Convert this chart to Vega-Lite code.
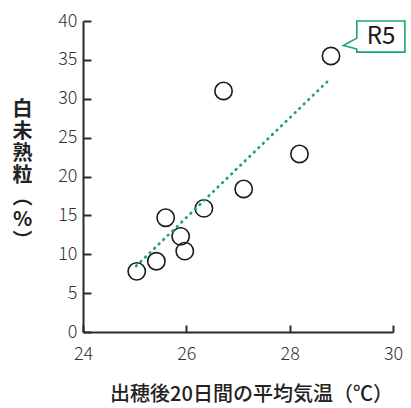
{
  "$schema": "https://vega.github.io/schema/vega-lite/v6.json",
  "width": 310,
  "height": 311,
  "autosize": {"type": "none"},
  "padding": {"left": 83, "top": 21, "right": 18, "bottom": 76},
  "background": "white",
  "config": {
    "view": {"stroke": null},
    "axis": {
      "grid": false,
      "domainColor": "#2b2b2b",
      "domainWidth": 2,
      "tickColor": "#2b2b2b",
      "tickWidth": 2,
      "labelFont": "Noto Sans CJK JP",
      "labelFontSize": 18,
      "labelFontWeight": 300,
      "labelColor": "#333333",
      "labelOverlap": false,
      "titleFont": "Noto Sans CJK JP",
      "titleColor": "#222222"
    }
  },
  "datasets": {
    "pts": [
      {"temp": 25.04, "rate": 7.8},
      {"temp": 25.42, "rate": 9.1},
      {"temp": 25.6, "rate": 14.7},
      {"temp": 25.89, "rate": 12.3},
      {"temp": 25.97, "rate": 10.4},
      {"temp": 26.34, "rate": 15.9},
      {"temp": 26.72, "rate": 31.0},
      {"temp": 27.11, "rate": 18.4},
      {"temp": 28.19, "rate": 22.9},
      {"temp": 28.8, "rate": 35.5}
    ],
    "trend": [
      {"temp": 25.03, "rate": 8.5},
      {"temp": 28.79, "rate": 32.6}
    ],
    "box": [
      {"x1": 29.3, "x2": 30.23, "y1": 36.0, "y2": 40.0, "label": "R5", "xc": 29.77, "yc": 38.0}
    ],
    "tail": [
      {"temp": 29.3, "rate": 37.8, "o": 1},
      {"temp": 29.04, "rate": 36.85, "o": 2},
      {"temp": 29.3, "rate": 36.4, "o": 3}
    ]
  },
  "layer": [
    {
      "data": {"name": "pts"},
      "mark": {"type": "point", "shape": "circle", "filled": false, "size": 300, "stroke": "#1a1a1a", "strokeWidth": 1.6, "opacity": 1},
      "encoding": {
        "x": {
          "field": "temp", "type": "quantitative",
          "scale": {"domain": [24, 30], "nice": false, "zero": false},
          "axis": {
            "values": [24, 26, 28, 30],
            "format": "d",
            "tickCount": 10,
            "tickSize": -7,
            "labelPadding": 20,
            "labelFlush": false,
            "title": "出穂後20日間の平均気温（℃）",
            "titleFontSize": 20,
            "titleFontWeight": 500,
            "titleX": 168,
            "titleY": 62,
            "titleAlign": "center",
            "titleBaseline": "middle"
          }
        },
        "y": {
          "field": "rate", "type": "quantitative",
          "scale": {"domain": [0, 40], "nice": false},
          "axis": {
            "values": [0, 5, 10, 15, 20, 25, 30, 35, 40],
            "format": "d",
            "tickCount": 20,
            "tickSize": -8,
            "labelPadding": 14,
            "labelFlush": false,
            "title": ["白", "未", "熟", "粒", "︵", "%", "︶"],
            "titleFontSize": 20,
            "titleFontWeight": "bold",
            "titleLineHeight": 22,
            "titleAngle": 0,
            "titleX": -61,
            "titleY": 88,
            "titleAlign": "center",
            "titleBaseline": "middle"
          }
        }
      }
    },
    {
      "data": {"name": "trend"},
      "mark": {"type": "line", "color": "#1aa56a", "strokeWidth": 2.8, "strokeCap": "round", "strokeDash": [0.5, 5.8]},
      "encoding": {
        "x": {"field": "temp", "type": "quantitative"},
        "y": {"field": "rate", "type": "quantitative"}
      }
    },
    {
      "data": {"name": "box"},
      "mark": {"type": "rect", "fill": "white", "stroke": "#1aa56a", "strokeWidth": 1.6, "clip": false},
      "encoding": {
        "x": {"field": "x1", "type": "quantitative"},
        "x2": {"field": "x2"},
        "y": {"field": "y1", "type": "quantitative"},
        "y2": {"field": "y2"}
      }
    },
    {
      "data": {"name": "box"},
      "mark": {"type": "rule", "stroke": "white", "strokeWidth": 3},
      "encoding": {
        "x": {"datum": 29.3, "type": "quantitative"},
        "y": {"datum": 36.45, "type": "quantitative"},
        "y2": {"datum": 37.75}
      }
    },
    {
      "data": {"name": "tail"},
      "mark": {"type": "line", "color": "#1aa56a", "strokeWidth": 1.6},
      "encoding": {
        "x": {"field": "temp", "type": "quantitative"},
        "y": {"field": "rate", "type": "quantitative"},
        "order": {"field": "o"}
      }
    },
    {
      "data": {"name": "box"},
      "mark": {"type": "text", "font": "Noto Sans CJK JP", "fontSize": 24, "color": "#1a1a1a", "align": "center", "baseline": "middle"},
      "encoding": {
        "x": {"field": "xc", "type": "quantitative"},
        "y": {"field": "yc", "type": "quantitative"},
        "text": {"field": "label"}
      }
    }
  ]
}
